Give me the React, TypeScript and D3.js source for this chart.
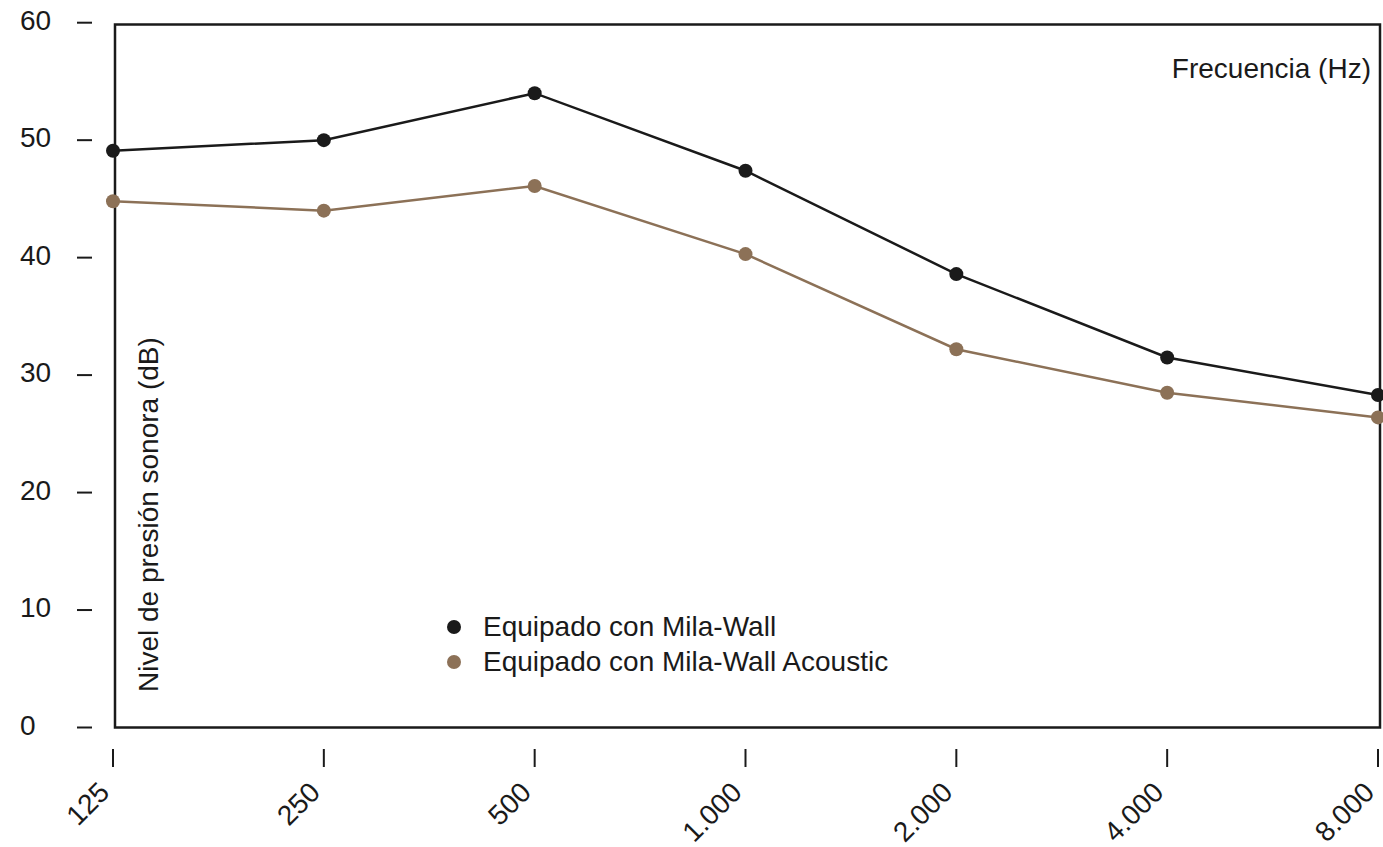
import React, { useEffect, useRef } from 'react';
import * as d3 from 'd3';

const frequencies = ['125', '250', '500', '1.000', '2.000', '4.000', '8.000'];
const milaWall = [49.1, 50.0, 54.0, 47.4, 38.6, 31.5, 28.3];
const milaWallAcoustic = [44.8, 44.0, 46.1, 40.3, 32.2, 28.5, 26.4];
const yTicks = [0, 10, 20, 30, 40, 50, 60];
const seriesNames = ['Equipado con Mila-Wall', 'Equipado con Mila-Wall Acoustic'];

const BLACK = '#1a1a1a';
const BROWN = '#8c7157';

const App: React.FC = () => {
  const svgRef = useRef(null);

  useEffect(() => {
    const totalWidth = 1383;
    const totalHeight = 847;
    const font = '"Liberation Sans", Arial, sans-serif';
    const fontSize = 28;

    const svg = d3.select(svgRef.current)
      .attr('width', totalWidth)
      .attr('height', totalHeight);
    svg.selectAll('*').remove();

    const xScale = d3.scalePoint<string>()
      .domain(frequencies)
      .range([113, 1378]);

    const yScale = d3.scaleLinear()
      .domain([0, 60])
      .range([727.5, 22.7]);

    // plot frame
    svg.append('rect')
      .attr('x', 115)
      .attr('y', 24.5)
      .attr('width', 1380 - 115)
      .attr('height', 727.5 - 24.5)
      .attr('fill', 'none')
      .attr('stroke', BLACK)
      .attr('stroke-width', 2.5);

    // y ticks
    const yg = svg.append('g');
    yg.selectAll('line')
      .data(yTicks)
      .enter().append('line')
      .attr('x1', 77)
      .attr('x2', 92)
      .attr('y1', d => yScale(d))
      .attr('y2', d => yScale(d))
      .attr('stroke', BLACK)
      .attr('stroke-width', 2);
    yg.selectAll('text')
      .data(yTicks)
      .enter().append('text')
      .attr('x', 20)
      .attr('y', d => yScale(d) + 7)
      .attr('font-family', font)
      .attr('font-size', fontSize)
      .attr('fill', BLACK)
      .text(d => d);

    // x ticks
    const xg = svg.append('g');
    xg.selectAll('line')
      .data(frequencies)
      .enter().append('line')
      .attr('x1', d => xScale(d)!)
      .attr('x2', d => xScale(d)!)
      .attr('y1', 749)
      .attr('y2', 767)
      .attr('stroke', BLACK)
      .attr('stroke-width', 2);
    xg.selectAll('text')
      .data(frequencies)
      .enter().append('text')
      .attr('transform', d => `translate(${xScale(d)! - 2}, 794) rotate(-45)`)
      .attr('text-anchor', 'end')
      .attr('font-family', font)
      .attr('font-size', fontSize)
      .attr('fill', BLACK)
      .text(d => d);

    // axis titles
    svg.append('text')
      .attr('x', 1371)
      .attr('y', 78)
      .attr('text-anchor', 'end')
      .attr('font-family', font)
      .attr('font-size', fontSize)
      .attr('fill', BLACK)
      .text('Frecuencia (Hz)');

    svg.append('text')
      .attr('transform', 'translate(158, 692) rotate(-90)')
      .attr('font-family', font)
      .attr('font-size', fontSize)
      .attr('fill', BLACK)
      .text('Nivel de presión sonora (dB)');

    // series
    const line = d3.line<number>()
      .x((_, i) => xScale(frequencies[i])!)
      .y(d => yScale(d));

    [[milaWall, BLACK], [milaWallAcoustic, BROWN]].forEach(([values, color]) => {
      const vals = values as number[];
      svg.append('path')
        .datum(vals)
        .attr('d', line)
        .attr('fill', 'none')
        .attr('stroke', color as string)
        .attr('stroke-width', 2.5);
      svg.append('g').selectAll('circle')
        .data(vals)
        .enter().append('circle')
        .attr('cx', (_, i) => xScale(frequencies[i])!)
        .attr('cy', d => yScale(d))
        .attr('r', 7)
        .attr('fill', color as string);
    });

    // legend
    const legend = svg.append('g');
    const colors = [BLACK, BROWN];
    seriesNames.forEach((name, i) => {
      legend.append('circle')
        .attr('cx', 454)
        .attr('cy', 627 + i * 35)
        .attr('r', 7)
        .attr('fill', colors[i]);
      legend.append('text')
        .attr('x', 483)
        .attr('y', 636 + i * 35)
        .attr('font-family', font)
        .attr('font-size', fontSize)
        .attr('fill', BLACK)
        .text(name);
    });
  }, []);

  return (
    <svg ref={svgRef} style={{ position: 'absolute', left: 0, top: 0 }}></svg>
  );
};

export default App;
